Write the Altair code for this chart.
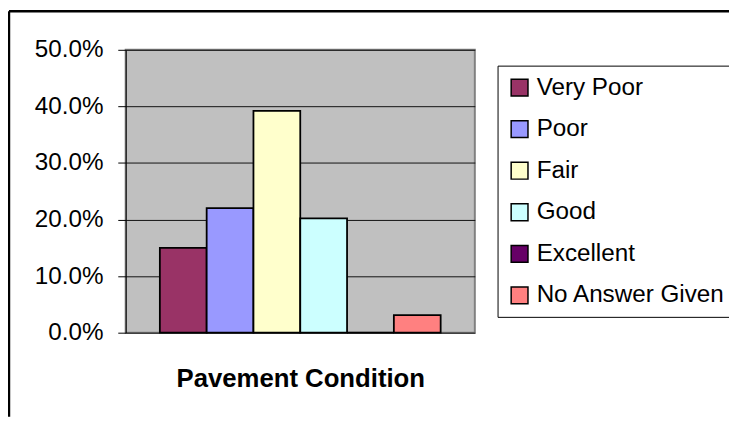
import altair as alt
import pandas as pd

categories = ["Very Poor", "Poor", "Fair", "Good", "Excellent", "No Answer Given"]
values = [0.150, 0.220, 0.392, 0.202, 0.0, 0.031]
colors = ["#993366", "#9999FF", "#FFFFCC", "#CCFFFF", "#660066", "#FF8080"]
y_ticks = [0.0, 0.1, 0.2, 0.3, 0.4, 0.5]
x_title = "Pavement Condition"

df = pd.DataFrame({"category": categories, "value": values})

W, H = 353, 286
PAD = {"left": 119, "top": 40, "right": 257, "bottom": 85}
FONT = "Liberation Sans"

bars = alt.Chart(df).mark_bar(stroke="black", strokeWidth=1.8).encode(
    x=alt.X("category:N", sort=categories,
            scale=alt.Scale(paddingInner=0, paddingOuter=0.73),
            axis=alt.Axis(labels=False, ticks=False, domain=False, title=x_title,
                          titleFontSize=26, titleFont=FONT, titleFontWeight="bold",
                          titleColor="black", titlePadding=33)),
    y=alt.Y("value:Q", scale=alt.Scale(domain=[0, 0.5], nice=False),
            axis=alt.Axis(values=y_ticks, format=".1%", title=None,
                          labelFontSize=24.5, labelFont=FONT, labelColor="black",
                          tickSize=8, tickColor="black", labelPadding=15,
                          domainColor="black", domainWidth=1,
                          grid=True, gridColor="#111111", gridWidth=1)),
    color=alt.Color("category:N", sort=categories,
                    scale=alt.Scale(domain=categories, range=colors),
                    legend=alt.Legend(title=None, orient="none", legendX=376, legendY=16,
                                      fillColor="white", strokeColor="black",
                                      padding=10, symbolType="square", symbolSize=289,
                                      symbolStrokeColor="black", symbolStrokeWidth=1.5,
                                      labelFontSize=24.5, labelFont=FONT, labelColor="black",
                                      labelOffset=5, rowPadding=17, labelLimit=400)),
)

one = pd.DataFrame({"a": [0]})
top_border = alt.Chart(one).mark_rule(color="black", strokeWidth=2.5).encode(
    x=alt.value(-118), x2=alt.value(W + PAD["right"]), y=alt.value(-39))
left_border = alt.Chart(one).mark_rule(color="black", strokeWidth=2.5).encode(
    x=alt.value(-118), y=alt.value(-39), y2=alt.value(H + PAD["bottom"]))

chart = alt.layer(bars, top_border, left_border).properties(
    width=W, height=H,
    autosize=alt.AutoSizeParams(type="none"),
    padding=PAD,
    background="white",
).configure_view(
    fill="#C0C0C0", stroke="#808080", strokeWidth=2
)

chart.save("out.html", embed_options={"renderer": "svg", "actions": False})
